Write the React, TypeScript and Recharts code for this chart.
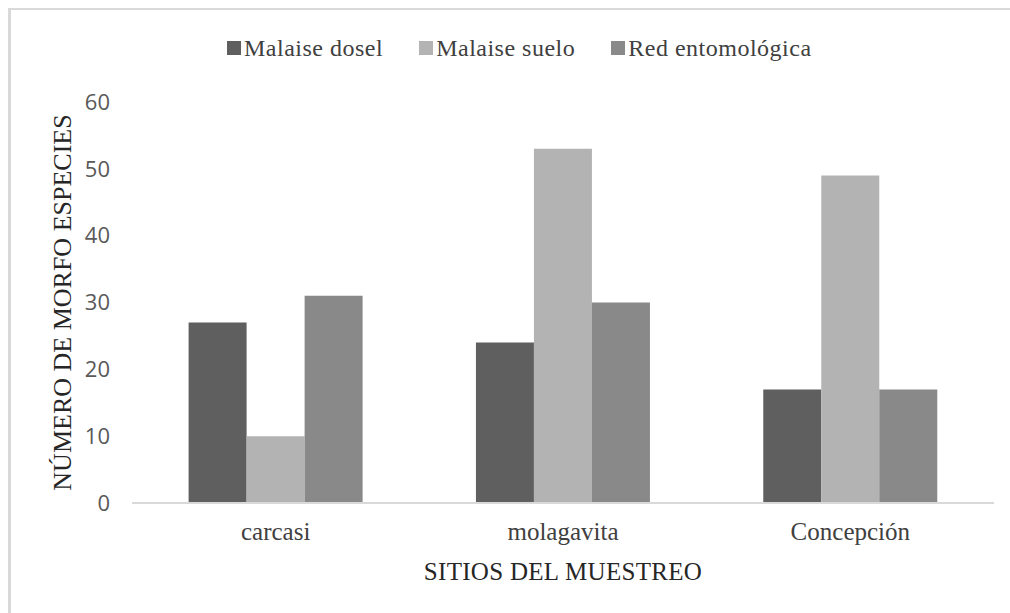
import React from 'react';
import { BarChart, Bar, XAxis, YAxis, Legend, Label } from 'recharts';

const sites = ['carcasi', 'molagavita', 'Concepción'];
const malaiseDosel = [27, 24, 17];
const malaiseSuelo = [10, 53, 49];
const redEntomologica = [31, 30, 17];
const yTicks = [0, 10, 20, 30, 40, 50, 60];

const seriesInfo = [
  { key: 'dosel', name: 'Malaise dosel', color: '#5f5f5f' },
  { key: 'suelo', name: 'Malaise suelo', color: '#b3b3b3' },
  { key: 'red', name: 'Red entomológica', color: '#898989' },
];

const data = sites.map((site, i) => ({
  site,
  dosel: malaiseDosel[i],
  suelo: malaiseSuelo[i],
  red: redEntomologica[i],
}));

const serif = '"Liberation Serif", "Times New Roman", serif';
const sans = '"Open Sans", "Liberation Sans", sans-serif';

const CustomLegend = () => (
  <div style={{ display: 'flex', alignItems: 'center', fontFamily: serif, fontSize: 24, letterSpacing: 0.5, color: '#404040', lineHeight: '26px' }}>
    {seriesInfo.map((s) => (
      <div key={s.key} style={{ display: 'flex', alignItems: 'center', marginRight: 36 }}>
        <span style={{ width: 14, height: 14, background: s.color, display: 'inline-block', marginRight: 3 }} />
        <span>{s.name}</span>
      </div>
    ))}
  </div>
);

export default function App() {
  return (
    <div style={{ position: 'fixed', left: 0, top: 0, width: 1010, height: 613, background: '#fff', overflow: 'hidden' }}>
      <div
        style={{
          position: 'absolute',
          left: 8,
          top: 8,
          width: 1002,
          height: 605,
          boxSizing: 'border-box',
          borderTop: '2px solid #d9d9d9',
          borderLeft: '3px solid #d9d9d9',
        }}
      />
      <div style={{ position: 'absolute', left: 0, top: 0 }}>
        <BarChart
          width={1010}
          height={613}
          data={data}
          margin={{ top: 76, right: 16, bottom: 30, left: 72 }}
          barCategoryGap="19.7%"
          barGap={0}
        >
          <XAxis
            dataKey="site"
            height={80}
            tickLine={false}
            tickSize={0}
            tickMargin={19}
            axisLine={{ stroke: '#d9d9d9', strokeWidth: 2 }}
            tick={{ fontFamily: serif, fontSize: 25, fill: '#404040' }}
          >
            <Label
              content={({ viewBox }: any) => (
                <text
                  x={viewBox.x + viewBox.width / 2}
                  y={580}
                  textAnchor="middle"
                  fontFamily={serif}
                  fontSize={25}
                  letterSpacing={0.3}
                  fill="#262626"
                >
                  SITIOS DEL MUESTREO
                </text>
              )}
            />
          </XAxis>
          <YAxis
            width={60}
            domain={[0, 60]}
            ticks={yTicks}
            interval={0}
            axisLine={false}
            tickLine={false}
            tickSize={0}
            tickMargin={22}
            tick={{ fontFamily: sans, fontSize: 22, fill: '#595959' }}
          >
            <Label
              content={({ viewBox }: any) => {
                const cx = 62;
                const cy = viewBox.y + viewBox.height / 2;
                return (
                  <text
                    x={cx}
                    y={cy}
                    transform={`rotate(-90 ${cx} ${cy})`}
                    textAnchor="middle"
                    dominantBaseline="central"
                    fontFamily={serif}
                    fontSize={26}
                    fill="#262626"
                  >
                    NÚMERO DE MORFO ESPECIES
                  </text>
                );
              }}
            />
          </YAxis>
          <Legend
            verticalAlign="top"
            content={<CustomLegend />}
            wrapperStyle={{ position: 'absolute', left: 227, top: 35, width: 'auto' }}
          />
          {seriesInfo.map((s) => (
            <Bar key={s.key} dataKey={s.key} name={s.name} fill={s.color} isAnimationActive={false} />
          ))}
        </BarChart>
      </div>
    </div>
  );
}
